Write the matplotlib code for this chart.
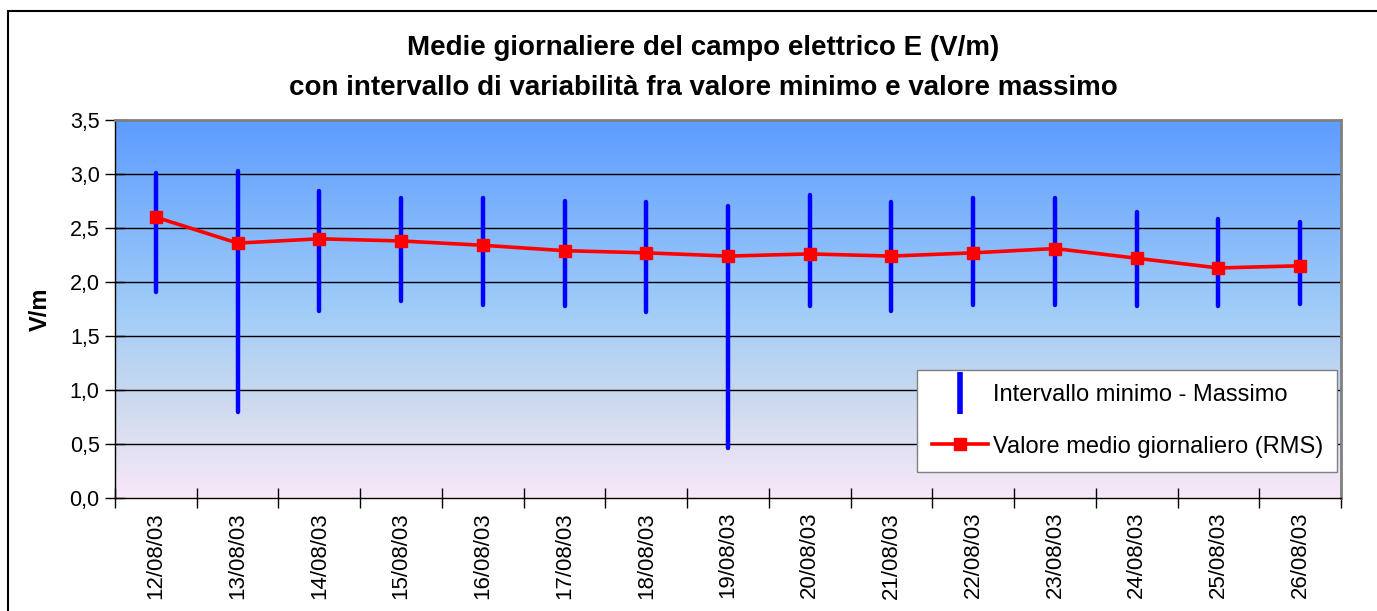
import matplotlib.pyplot as plt
import numpy as np
from matplotlib.colors import LinearSegmentedColormap
from matplotlib.lines import Line2D
from matplotlib.patches import Rectangle

plt.rcParams['font.family'] = ['Liberation Sans', 'DejaVu Sans']

dates = ['12/08/03', '13/08/03', '14/08/03', '15/08/03', '16/08/03', '17/08/03',
         '18/08/03', '19/08/03', '20/08/03', '21/08/03', '22/08/03', '23/08/03',
         '24/08/03', '25/08/03', '26/08/03']
mean_rms = [2.60, 2.36, 2.40, 2.38, 2.34, 2.29, 2.27, 2.24, 2.26, 2.24, 2.27, 2.31, 2.22, 2.13, 2.15]
max_vals = [3.01, 3.03, 2.84, 2.78, 2.78, 2.75, 2.74, 2.70, 2.81, 2.74, 2.78, 2.78, 2.65, 2.58, 2.56]
min_vals = [1.91, 0.80, 1.73, 1.82, 1.79, 1.78, 1.72, 0.46, 1.78, 1.73, 1.79, 1.79, 1.78, 1.78, 1.80]
y_ticks = [0.0, 0.5, 1.0, 1.5, 2.0, 2.5, 3.0, 3.5]

fig = plt.figure(figsize=(13.77, 6.11), dpi=100)
W, H = 1377, 611

# outer chart frame (cropped at right and bottom)
fig.patches.append(Rectangle((8 / W, -0.1), 1.2, (1 - 11 / H) + 0.1, transform=fig.transFigure,
                             fill=False, edgecolor='black', linewidth=1.5))

ax = fig.add_axes([115 / W, 1 - 498 / H, (1341 - 115) / W, (498 - 120) / H])

# gradient background
cmap = LinearSegmentedColormap.from_list('bg', [
    (0.0, (248 / 255, 232 / 255, 248 / 255)),
    (0.25, (205 / 255, 218 / 255, 238 / 255)),
    (0.5, (160 / 255, 204 / 255, 248 / 255)),
    (1.0, (94 / 255, 157 / 255, 255 / 255)),
])
grad = np.linspace(0, 1, 256).reshape(-1, 1)
ax.imshow(grad, cmap=cmap, aspect='auto', origin='lower',
          extent=[-0.5, 14.5, 0, 3.5], zorder=0)

x = np.arange(len(dates))
for yv in y_ticks[1:-1]:
    ax.axhline(yv, color='black', linewidth=1, zorder=1)

ax.vlines(x, min_vals, max_vals, color='#0000FF', linewidth=3.2, capstyle='round', zorder=2)
ax.plot(x, mean_rms, color='#FF0000', linewidth=2.6, marker='s', markersize=9, zorder=3)

ax.set_xlim(-0.5, 14.5)
ax.set_ylim(0, 3.5)
ax.set_yticks(y_ticks)
ax.set_yticklabels([f'{v:.1f}'.replace('.', ',') for v in y_ticks], fontsize=15.5)
ax.tick_params(axis='y', direction='inout', length=14, width=1, pad=4)

ax.set_xticks(x)
ax.set_xticklabels(dates, rotation=90, fontsize=16, va='top')
ax.tick_params(axis='x', which='major', length=0, pad=10)
ax.set_xticks(np.arange(-0.5, 15, 1), minor=True)
ax.tick_params(axis='x', which='minor', direction='inout', length=14, width=1)

for side in ['top', 'right']:
    ax.spines[side].set_color('#808080')
    ax.spines[side].set_linewidth(2)
for side in ['left', 'bottom']:
    ax.spines[side].set_color('black')
    ax.spines[side].set_linewidth(1)

ax.set_ylabel('V/m', fontsize=17, fontweight='bold', labelpad=13)

handles = [
    Line2D([], [], color='#0000FF', marker='|', markersize=30, markeredgewidth=4, linestyle='none'),
    Line2D([], [], color='#FF0000', linewidth=2.6, marker='s', markersize=9),
]
leg = ax.legend(handles, ['Intervallo minimo - Massimo', 'Valore medio giornaliero (RMS)'],
                loc='lower right', bbox_to_anchor=(0.997, 0.069), fontsize=17, frameon=True,
                fancybox=False, framealpha=1, edgecolor='#808080', handlelength=2.4,
                handletextpad=0.2, labelspacing=1.25, borderpad=0.6, borderaxespad=0)
leg.get_frame().set_linewidth(1)

fig.text(703 / W, 1 - 48 / H, 'Medie giornaliere del campo elettrico E (V/m)',
         ha='center', va='center', fontsize=20, fontweight='bold')
fig.text(703 / W, 1 - 88 / H, 'con intervallo di variabilità fra valore minimo e valore massimo',
         ha='center', va='center', fontsize=20, fontweight='bold')

fig.savefig('out.png', dpi=100)
